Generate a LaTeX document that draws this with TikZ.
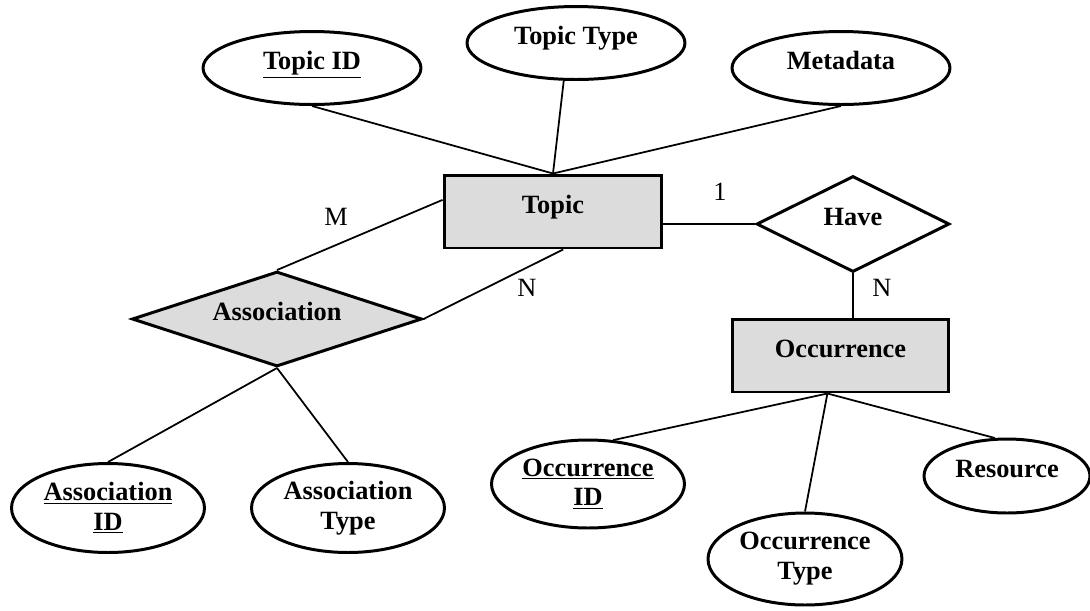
\documentclass[tikz,border=0pt]{standalone}
\usepackage{fontspec}
\setmainfont{Liberation Serif}
\usepackage{tikz}
\usetikzlibrary{shapes.geometric}

\definecolor{erfill}{RGB}{220,220,220}
\newcommand{\erfont}{\fontsize{15}{17}\selectfont}

\tikzset{
  attr/.style={ellipse, draw, line width=1.7pt, font=\erfont\bfseries, align=center, inner sep=0pt},
  entity/.style={rectangle, draw, fill=erfill, line width=1.7pt, font=\erfont\bfseries, inner sep=0pt},
  rel/.style={diamond, aspect=2.5, draw, line width=1.7pt, font=\erfont\bfseries, inner sep=0pt},
  lift/.style={text height=10pt, text depth=8pt},
  link/.style={line width=1pt},
  card/.style={inner sep=0pt, font=\erfont}
}

\begin{document}
\begin{tikzpicture}[x=0.02cm, y=-0.02cm]

      \useasboundingbox (0,0) rectangle (1090,610);

      % entities
      \node[entity, lift, minimum width=4.36cm, minimum height=1.46cm] (topic) at (553,211.5) {Topic};
      \node[entity, lift, minimum width=4.34cm, minimum height=1.46cm] (occ) at (840.5,355.5) {Occurrence};

      % relationships
      \node[rel, lift, fill=erfill, minimum width=5.8cm, minimum height=1.9cm] (assoc) at (277,319) {Association};
      \node[rel, lift, fill=white, minimum width=3.86cm, minimum height=1.92cm] (have) at (853,224) {Have};

      % attributes of topic
      \node[attr, lift, minimum width=4.36cm, minimum height=1.46cm] (tid) at (312,68) {\underline{Topic ID}};
      \node[attr, lift, minimum width=4.36cm, minimum height=1.46cm] (ttype) at (576,43) {Topic Type};
      \node[attr, lift, minimum width=4.36cm, minimum height=1.46cm] (meta) at (841,68) {Metadata};

      % attributes of association
      \node[attr, minimum width=3.86cm, minimum height=1.78cm] (aid) at (108,508) {\underline{Association}\\\underline{ID}};
      \node[attr, minimum width=3.86cm, minimum height=1.78cm] (atype) at (348,508) {Association\\Type};

      % attributes of occurrence
      \node[attr, minimum width=3.86cm, minimum height=1.76cm] (oid) at (588,484) {\underline{Occurrence}\\\underline{ID}};
      \node[attr, minimum width=3.88cm, minimum height=1.84cm] (otype) at (805,559) {Occurrence\\Type};
      \node[attr, lift, minimum width=3.32cm, minimum height=1.48cm] (res) at (1007,476) {Resource};

      % links
      \draw[link] (tid.south) -- (topic.north);
      \draw[link] (ttype.-108) -- (topic.north);
      \draw[link] (meta.south) -- (topic.north);
      \draw[link] (assoc.north) -- (topic.174);
      \draw[link] (assoc.east) -- (topic.-75);
      \draw[link] (topic.east |- have.west) -- (have.west);
      \draw[link] (have.south) -- (have.south |- occ.north);
      \draw[link] (assoc.south) -- (aid.north);
      \draw[link] (assoc.south) -- (atype.north);
      \draw[link] (occ.-109) -- (oid.60);
      \draw[link] (occ.-109) -- (otype.north);
      \draw[link] (occ.-109) -- (res.108);

      % cardinalities
      \node[card] (cM) at (336,217) {M};
      \node[card] (cN) at (527,288) {N};
      \node[card] (c1) at (720,192) {1};
      \node[card] (cN2) at (882,288) {N};

\end{tikzpicture}
\end{document}
